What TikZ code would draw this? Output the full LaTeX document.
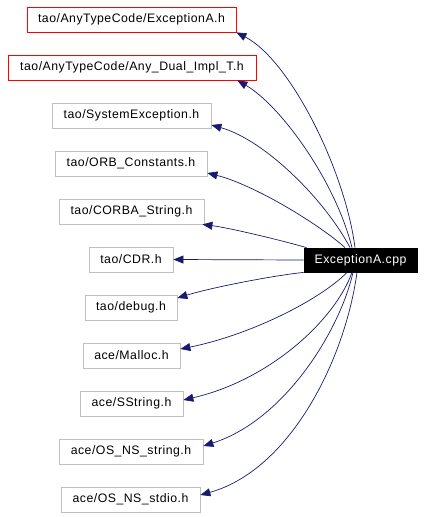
\documentclass[tikz,border=0pt]{standalone}
\usepackage{fontspec}
\setmainfont[LetterSpace=4]{Liberation Sans}
\usetikzlibrary{arrows.meta}
\definecolor{edgeblue}{HTML}{191970}
\definecolor{boxgray}{HTML}{BFBFBF}
\begin{document}
\begin{tikzpicture}[x=1pt,y=-1pt,
    hdr/.style={draw=boxgray,line width=0.8pt,fill=white,minimum height=25pt,inner sep=0pt,
      font=\fontsize{12.3}{14}\selectfont},
    redhdr/.style={hdr,draw=red},
    mainfile/.style={hdr,draw=black,fill=black,text=white,minimum height=24pt},
    incl/.style={draw=edgeblue,line width=0.7pt,-{Triangle[length=10pt,width=8pt]}}]
  \useasboundingbox (0,0) rectangle (424,517);

  % Included headers, top to bottom
  \node[redhdr,minimum width=209pt] (exA) at (131.5,19.5) {tao/AnyTypeCode/ExceptionA.h};
  \node[redhdr,minimum width=248pt] (dual) at (132,67.5) {tao/AnyTypeCode/Any\_Dual\_Impl\_T.h};
  \node[hdr,minimum width=159pt] (sysex) at (131.5,115.5) {tao/SystemException.h};
  \node[hdr,minimum width=152pt] (orb) at (131,163.5) {tao/ORB\_Constants.h};
  \node[hdr,minimum width=145pt] (corba) at (131.5,211.5) {tao/CORBA\_String.h};
  \node[hdr,minimum width=84pt] (cdr) at (131,259.5) {tao/CDR.h};
  \node[hdr,minimum width=92pt] (dbg) at (131,307.5) {tao/debug.h};
  \node[hdr,minimum width=97pt] (malloc) at (131.5,355.5) {ace/Malloc.h};
  \node[hdr,minimum width=103pt] (sstr) at (131.5,403.5) {ace/SString.h};
  \node[hdr,minimum width=144pt] (nsstr) at (131,451.5) {ace/OS\_NS\_string.h};
  \node[hdr,minimum width=139pt] (nsstdio) at (130.5,499.5) {ace/OS\_NS\_stdio.h};

  % The source file
  \node[mainfile,minimum width=113pt] (main) at (360.5,260) {ExceptionA.cpp};

  % Edges going up
  \draw[incl] ([xshift=-5.5pt]main.north) .. controls (345,170) and (290,60) .. (exA.south east);
  \draw[incl] ([xshift=-8.5pt]main.north) .. controls (335,180) and (280,105) .. ([xshift=-19pt]dual.south east);
  \draw[incl] ([xshift=-10.5pt]main.north) .. controls (325,200) and (265,140) .. ([yshift=-9.5pt]sysex.east);
  \draw[incl] ([xshift=-15.5pt]main.north) .. controls (320,225) and (255,185) .. ([yshift=-9.5pt]orb.east);
  \draw[incl] ([xshift=3pt]main.north west) .. controls (280,240) and (230,228) .. ([xshift=-2pt]corba.south east);

  % Straight one
  \draw[incl] (main.west) -- (cdr.east);

  % Edges going down
  \draw[incl] (main.south west) .. controls (270,276) and (210,288) .. ([yshift=9.5pt]dbg.east);
  \draw[incl] ([xshift=-13.5pt]main.south) .. controls (320,300) and (250,335) .. ([yshift=6.5pt]malloc.east);
  \draw[incl] ([xshift=-8.5pt]main.south) .. controls (335,320) and (270,380) .. ([yshift=3.5pt]sstr.east);
  \draw[incl] ([xshift=-7.5pt]main.south) .. controls (340,330) and (285,420) .. ([yshift=5.5pt]nsstr.east);
  \draw[incl] ([xshift=-3.5pt]main.south) .. controls (345,360) and (290,470) .. ([yshift=4.5pt]nsstdio.east);
\end{tikzpicture}
\end{document}
